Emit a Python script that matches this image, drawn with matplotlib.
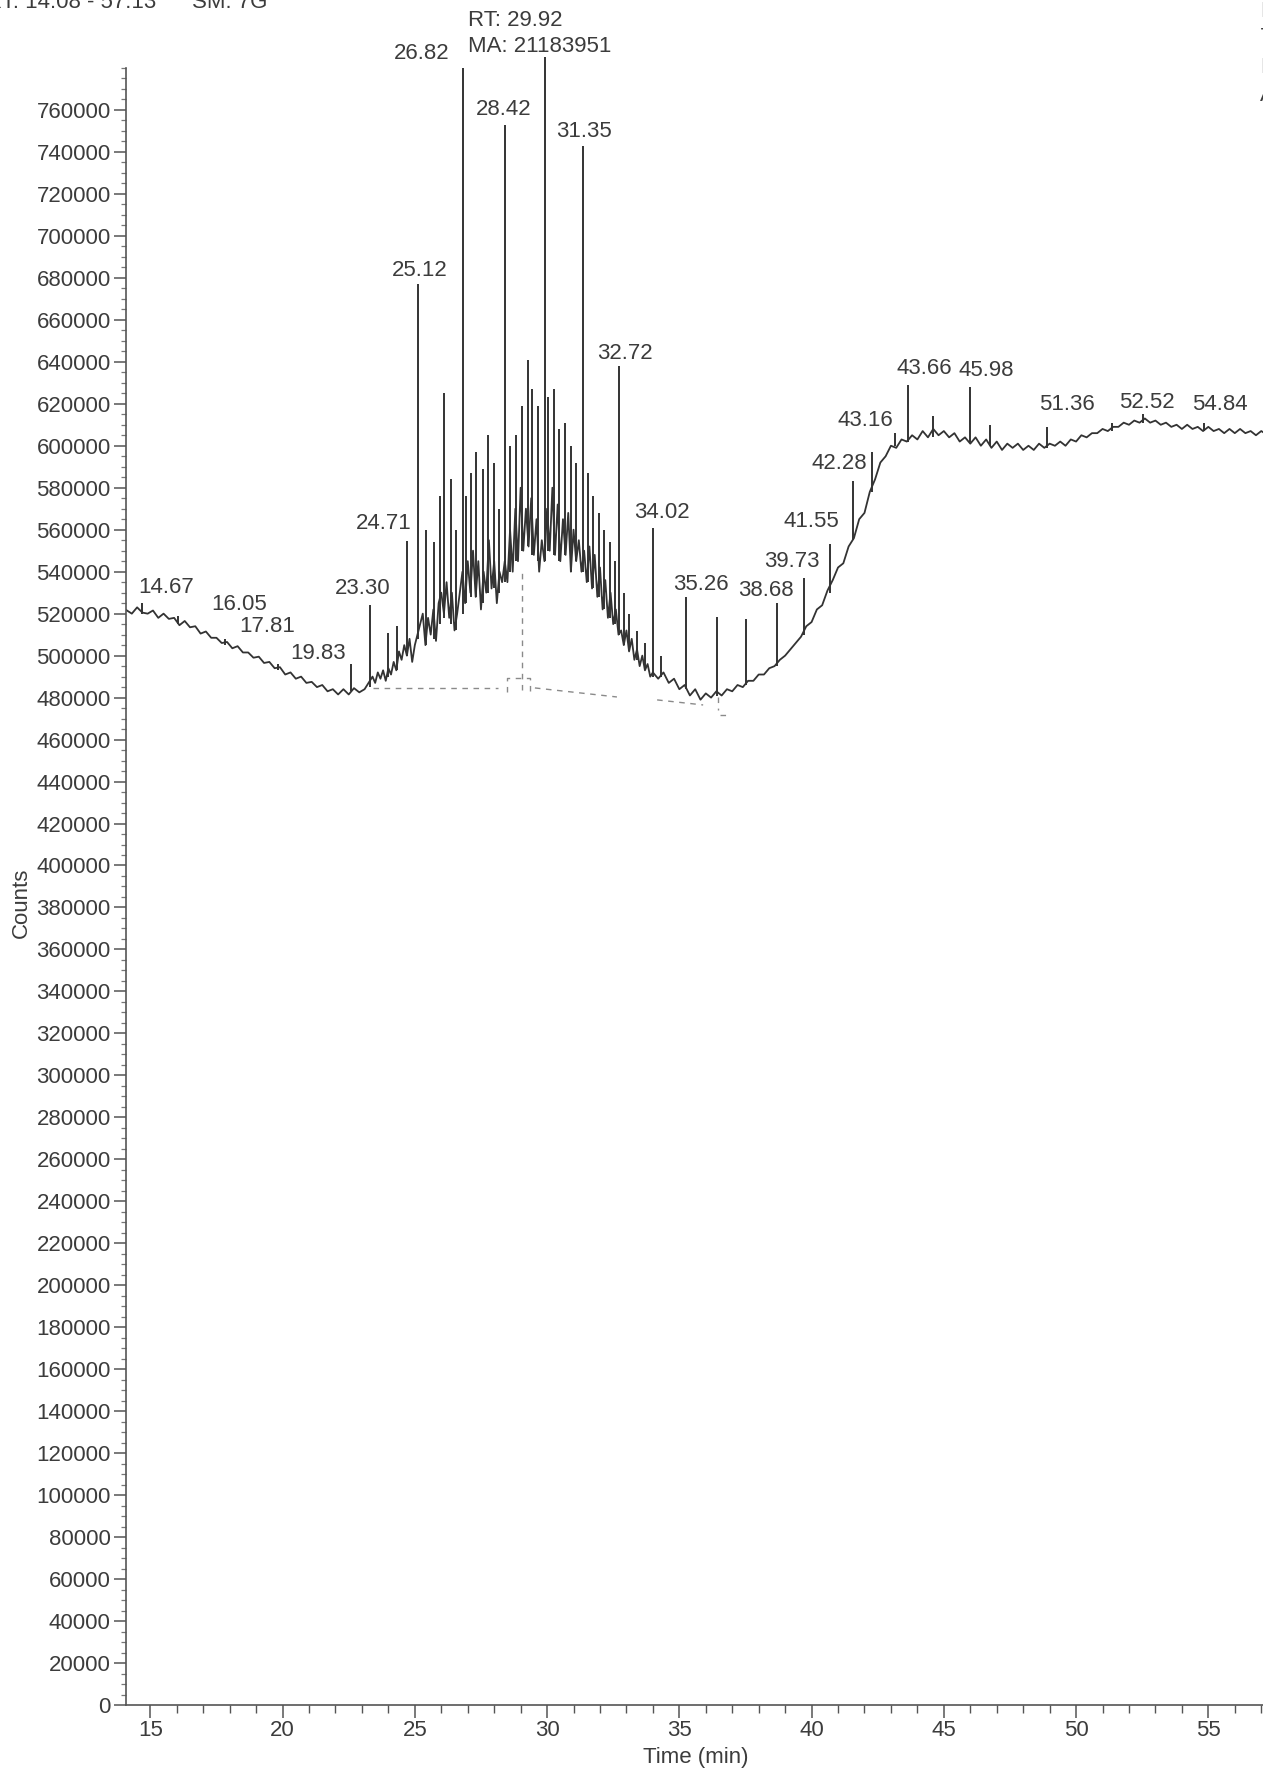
import numpy as np
import matplotlib.pyplot as plt
from matplotlib.ticker import MultipleLocator, FixedLocator

plt.rcParams['font.family'] = ['Liberation Sans', 'DejaVu Sans']

# ---------------- TIC trace (time in min, counts in thousands) ----------------

trace_t = [14.08, 14.3, 14.5, 14.7, 14.9, 15.1, 15.3, 15.5, 15.7, 15.9,
           16.1, 16.3, 16.5, 16.7, 16.9, 17.1, 17.3, 17.5, 17.7, 17.9,
           18.1, 18.3, 18.5, 18.7, 18.9, 19.1, 19.3, 19.5, 19.7, 19.9,
           20.1, 20.3, 20.5, 20.7, 20.9, 21.1, 21.3, 21.5, 21.7, 21.9,
           22.1, 22.3, 22.5, 22.7, 22.9, 23.1,
           23.2, 23.3, 23.4, 23.5, 23.6, 23.7, 23.8, 23.9, 24.0, 24.1,
           24.2, 24.3, 24.4, 24.5, 24.6, 24.7, 24.8, 24.9, 25.0, 25.1,
           25.2, 25.3, 25.4, 25.5, 25.6, 25.7, 25.8, 25.9, 26.0, 26.1,
           26.2, 26.3, 26.4, 26.5, 26.6, 26.7, 26.8, 26.9, 27.0, 27.1,
           27.2, 27.3, 27.4, 27.5, 27.6, 27.7, 27.8, 27.9, 28.0, 28.1,
           28.2, 28.3, 28.4, 28.5, 28.6, 28.7, 28.8, 28.9, 29.0, 29.1,
           29.2, 29.3, 29.4, 29.5, 29.6, 29.7, 29.8, 29.9, 30.0, 30.1,
           30.2, 30.3, 30.4, 30.5, 30.6, 30.7, 30.8, 30.9, 31.0, 31.1,
           31.2, 31.3, 31.4, 31.5, 31.6, 31.7, 31.8, 31.9, 32.0, 32.1,
           32.2, 32.3, 32.4, 32.5, 32.6, 32.7, 32.8, 32.9, 33.0, 33.1,
           33.2, 33.3, 33.4, 33.5, 33.6, 33.7, 33.8, 33.9,
           34.0, 34.2, 34.4, 34.6, 34.8, 35.0, 35.2, 35.4, 35.6, 35.8,
           36.0, 36.2, 36.4, 36.6, 36.8, 37.0, 37.2, 37.4, 37.6, 37.8,
           38.0, 38.2, 38.4, 38.6, 38.8, 39.0, 39.2, 39.4, 39.6, 39.8,
           40.0, 40.2, 40.4, 40.6, 40.8, 41.0, 41.2, 41.4, 41.6, 41.8,
           42.0, 42.2, 42.4, 42.6, 42.8, 43.0, 43.2, 43.4, 43.6, 43.8,
           44.0, 44.2, 44.4, 44.6, 44.8, 45.0, 45.2, 45.4, 45.6, 45.8,
           46.0, 46.2, 46.4, 46.6, 46.8, 47.0, 47.2, 47.4, 47.6, 47.8,
           48.0, 48.2, 48.4, 48.6, 48.8, 49.0, 49.2, 49.4, 49.6, 49.8,
           50.0, 50.2, 50.4, 50.6, 50.8, 51.0, 51.2, 51.4, 51.6, 51.8,
           52.0, 52.2, 52.4, 52.6, 52.8, 53.0, 53.2, 53.4, 53.6, 53.8,
           54.0, 54.2, 54.4, 54.6, 54.8, 55.0, 55.2, 55.4, 55.6, 55.8,
           56.0, 56.2, 56.4, 56.6, 56.8, 57.0, 57.13]

trace_k = [521.8, 520.0, 523.0, 520.5, 520.0, 521.5, 518.0, 520.0, 517.5, 518.0,
           514.5, 516.5, 513.5, 514.0, 510.5, 511.5, 508.5, 508.5, 506.0, 506.5,
           503.5, 504.5, 501.5, 501.5, 499.0, 499.5, 496.5, 497.0, 494.0, 494.5,
           491.0, 492.0, 489.0, 490.0, 487.0, 487.5, 485.0, 486.0, 483.0, 484.0,
           481.5, 484.0, 481.5, 484.5, 482.5, 484.0,
           486, 488, 490, 487, 492, 489, 493, 488, 494, 491,
           497, 493, 502, 498, 505, 500, 508, 497, 505, 510,
           515, 520, 505, 518, 510, 522, 507, 525, 530, 520,
           535, 518, 530, 512, 520, 530, 540, 525, 545, 530,
           550, 528, 545, 522, 540, 530, 555, 532, 545, 525,
           540, 535, 545, 535, 560, 540, 570, 545, 580, 550,
           570, 552, 575, 548, 565, 540, 555, 545, 570, 550,
           580, 548, 572, 545, 565, 548, 568, 540, 560, 545,
           555, 540, 550, 535, 552, 532, 548, 528, 542, 522,
           536, 518, 530, 515, 522, 510, 512, 505, 512, 502,
           508, 498, 503, 495, 500, 493, 496, 490,
           492, 489, 492, 487, 489, 484, 486, 481, 484, 479,
           482, 480, 483, 481, 484, 483, 486, 485, 488, 488,
           491, 491, 494, 495, 498, 500, 503, 506, 509, 514,
           516, 522, 524, 531, 536, 542, 544, 552, 556, 565,
           568, 578, 584, 592, 595, 600, 599, 603, 602, 605,
           603, 607, 604, 608, 605, 607, 604, 606, 602, 604,
           601, 604, 600, 603, 599, 602, 598, 601, 599, 601,
           598, 600, 598, 601, 599, 601, 600, 602, 600, 603,
           602, 605, 604, 606, 606, 608, 607, 609, 609, 611,
           610, 612, 611, 613, 611, 612, 610, 611, 609, 610,
           608, 610, 608, 609, 607, 609, 607, 608, 606, 608,
           606, 608, 606, 607, 605, 607, 606]

# ---------------- individual peaks: time, foot and apex (thousand counts) ----------------

peak_t = [14.67, 16.05, 17.81, 19.83, 22.60, 23.30, 24.00, 24.32, 24.71, 25.12,
          25.43, 25.73, 25.94, 26.11, 26.37, 26.55, 26.82, 26.95, 27.14, 27.31,
          27.56, 27.78, 27.99, 28.20, 28.42, 28.59, 28.84, 29.05, 29.27, 29.44,
          29.65, 29.92, 30.03, 30.25, 30.46, 30.67, 30.89, 31.10, 31.35, 31.53,
          31.74, 31.95, 32.17, 32.38, 32.55, 32.72, 32.89, 33.10, 33.40, 33.70,
          34.02, 34.30, 35.26, 36.41, 37.52, 38.68, 39.73, 40.69, 41.55, 42.28,
          43.16, 43.66, 44.60, 45.98, 46.75, 48.89, 51.36, 52.52, 54.84]

peak_foot = [520, 515, 505, 493, 483, 485, 490, 493, 500, 508,
             505, 508, 515, 518, 515, 512, 520, 525, 528, 528,
             525, 530, 532, 530, 535, 540, 545, 550, 552, 548,
             545, 545, 550, 548, 545, 548, 540, 545, 540, 535,
             532, 528, 522, 518, 515, 510, 505, 502, 498, 493,
             490, 490, 484, 481, 486, 495, 510, 530, 555, 578,
             600, 602, 604, 602, 600, 599, 607, 611, 607]

peak_top = [525, 519, 508, 496, 496, 524, 511, 514, 554.5, 677,
            560, 554, 576, 625, 584, 560, 780, 576, 587, 597,
            589, 605, 592, 570, 753, 600, 605, 619, 641, 627,
            619, 785, 623, 627, 608, 611, 600, 592, 742.6, 587,
            576, 568, 560, 554, 545, 638, 530, 520, 511.5, 506,
            561, 500, 528, 518.6, 517.5, 525, 537, 553, 583, 597,
            606, 629, 614, 628, 610, 609, 611, 615, 611]

# annotated retention times
label_rt = ['14.67', '16.05', '17.81', '19.83', '23.30', '24.71', '25.12', '26.82',
            '28.42', '31.35', '32.72', '34.02', '35.26', '38.68', '39.73', '41.55',
            '42.28', '43.16', '43.66', '45.98', '51.36', '52.52', '54.84']

# integration baseline marks (time, thousand counts)
base_marks = [([23.4, 28.14], [484.5, 484.5]),
              ([28.48, 28.48, 29.35, 29.35], [482.7, 489.4, 489.4, 483.0]),
              ([29.07, 29.07], [483.6, 541.0]),
              ([29.54, 32.64], [484.6, 480.3]),
              ([34.16, 35.9], [478.9, 476.5]),
              ([36.46, 36.46], [480.3, 474.0]),
              ([36.54, 36.92], [471.7, 471.7])]

# ---------------- figure ----------------

W, H = 1263, 1768
fig = plt.figure(figsize=(W / 100, H / 100), dpi=100)
x0, x1 = 14.08, 57.13
px_per_min = 26.45
ax = fig.add_axes([126 / W, 63 / H, (x1 - x0) * px_per_min / W, (1705 - 26) / H])

ink = '#333333'
txt = '#3c3c3c'

ax.plot(trace_t, np.array(trace_k) * 1000, color=ink, lw=1.3)
ax.vlines(peak_t, np.array(peak_foot) * 1000, np.array(peak_top) * 1000, color=ink, lw=1.4)

for xs, ys in base_marks:
    ax.plot(xs, np.array(ys) * 1000, color='#8a8a8a', lw=1.0, ls=(0, (4, 4)))

# label anchors (centre of text, data coords)
label_pos = [(15.58, 532.5), (18.35, 524.4), (19.42, 513.7), (21.34, 500.8),
             (23.04, 532.0), (23.81, 563.0), (25.17, 683.5), (25.26, 787.0),
             (28.37, 760.0), (31.40, 749.6), (32.93, 644.0), (34.34, 568.0),
             (35.83, 534.0), (38.26, 531.0), (39.24, 544.8), (40.01, 564.0),
             (41.03, 591.6), (42.05, 612.0), (44.27, 637.0), (46.62, 636.0),
             (49.64, 619.5), (52.67, 620.6), (55.44, 619.5)]

for s, (lx, ly) in zip(label_rt, label_pos):
    ax.text(lx, ly * 1000, s, ha='center', va='center', fontsize=16, color=txt, clip_on=False)

ax.text(27.0, 802800, 'RT: 29.92', ha='left', va='center', fontsize=16, color=txt, clip_on=False)
ax.text(27.0, 790000, 'MA: 21183951', ha='left', va='center', fontsize=16, color=txt, clip_on=False)

ax.set_xlim(x0, x1)
ax.set_ylim(0, 800000)

for side in ['top', 'right']:
    ax.spines[side].set_visible(False)
ax.spines['left'].set_bounds(0, 780000)
for side in ['left', 'bottom']:
    ax.spines[side].set_color('#555555')
    ax.spines[side].set_linewidth(1.2)

ax.xaxis.set_major_locator(FixedLocator([15, 20, 25, 30, 35, 40, 45, 50, 55]))
ax.xaxis.set_minor_locator(MultipleLocator(1))
ax.yaxis.set_major_locator(FixedLocator(np.arange(0, 760001, 20000)))
ax.yaxis.set_minor_locator(FixedLocator(np.arange(0, 780001, 5000)))
ax.yaxis.set_major_formatter(plt.FuncFormatter(lambda v, p: f'{int(v)}'))

ax.tick_params(axis='both', which='major', direction='out', length=9, width=1.1,
               color='#555555', labelsize=16, labelcolor=txt, pad=2)
ax.tick_params(axis='x', which='minor', direction='out', length=6, width=1.0, color='#555555')
ax.tick_params(axis='y', which='minor', direction='out', length=3.5, width=0.9, color='#777777')

ax.set_xlabel('Time (min)', fontsize=16, color=txt, labelpad=4)
ax.set_ylabel('Counts', fontsize=16, color=txt)
ax.yaxis.set_label_coords(-0.083, 0.478)

# header lines, partly cut off at the page edges
fig.text(-14 / W, 1 - 8 / H, 'RT: 14.08 - 57.13', fontsize=16, color=txt, va='baseline')
fig.text(192 / W, 1 - 8 / H, 'SM: 7G', fontsize=16, color=txt, va='baseline')
for y, s in [(17, 'NL:'), (43, '7.85E5'), (73, 'MS'), (101, 'A')]:
    fig.text(1260 / W, 1 - y / H, s, fontsize=16, color=txt, va='baseline')

fig.savefig('out.png', dpi=100)
